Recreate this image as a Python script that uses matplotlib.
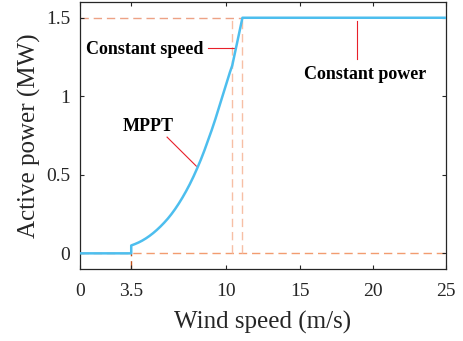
import matplotlib
matplotlib.use("Agg")
import matplotlib.pyplot as plt

# Data
wind = [0, 3.5, 3.5, 3.75, 4, 4.25, 4.5, 4.75, 5, 5.25, 5.5, 5.75, 6, 6.25, 6.5, 6.75,
        7, 7.25, 7.5, 7.75, 8, 8.25, 8.5, 8.75, 9, 9.25, 9.5, 9.75, 10, 10.25, 10.4,
        11.1, 25]
power = [0, 0, 0.05, 0.059, 0.069, 0.081, 0.095, 0.111, 0.129, 0.149, 0.171, 0.195,
         0.221, 0.25, 0.282, 0.317, 0.355, 0.396, 0.44, 0.488, 0.54, 0.595, 0.655,
         0.72, 0.785, 0.855, 0.93, 1.005, 1.08, 1.155, 1.195, 1.5, 1.5]
v_cut_in = 3.5
v_cs1 = 10.4
v_rated = 11.1
p_rated = 1.5
x_ticks = [0, 3.5, 10, 15, 20, 25]
x_ticklabels = ["0", "3.5", "10", "15", "20", "25"]
y_ticks = [0, 0.5, 1, 1.5]
y_ticklabels = ["0", "0.5", "1", "1.5"]

plt.rcParams['font.family'] = ['Liberation Serif', 'DejaVu Serif']

fig = plt.figure(figsize=(4.63, 3.41), dpi=100)
ax = fig.add_axes([0.1728, 0.211, 0.7902, 0.783])

dash = (0, (6, 3.5))
# dashed guide lines
ax.plot([0, v_rated], [p_rated, p_rated], ls=dash, color='#EDA285', lw=1.0, zorder=1)
ax.plot([0, 25], [0, 0], ls=dash, color='#F29C70', lw=1.0, zorder=1)
ax.plot([v_cs1, v_cs1], [0, p_rated], ls=dash, color='#F7BFA5', lw=1.0, zorder=1)
ax.plot([v_rated, v_rated], [0, p_rated], ls=dash, color='#F7BFA5', lw=1.0, zorder=1)
ax.plot([v_cut_in, v_cut_in], [-0.1, 0], ls=dash, color='#C0501A', lw=1.0, zorder=1)

# power curve
ax.plot(wind, power, color='#4DBEEE', lw=1.8, zorder=3, solid_joinstyle='round')

# annotations
ax.plot([8.75, 10.6], [1.305, 1.305], color='#E8202A', lw=0.8, zorder=2)
ax.text(4.44, 1.30, 'Constant speed', fontweight='bold', fontsize=13,
        ha='center', va='center')
ax.plot([5.95, 7.95], [0.74, 0.555], color='#E8202A', lw=0.8, zorder=2)
ax.text(4.64, 0.81, 'MPPT', fontweight='bold', fontsize=13,
        ha='center', va='center')
ax.plot([18.95, 18.95], [1.48, 1.24], color='#E8202A', lw=0.8, zorder=2)
ax.text(19.47, 1.14, 'Constant power', fontweight='bold', fontsize=13,
        ha='center', va='center')

ax.set_xlim(0, 25)
ax.set_ylim(-0.1, 1.6)
ax.set_xticks(x_ticks)
ax.set_xticklabels(x_ticklabels)
ax.set_yticks(y_ticks)
ax.set_yticklabels(y_ticklabels)
ax.tick_params(direction='in', length=3, width=0.8, labelsize=14,
               top=True, right=True, pad=7, colors='#262626')
ax.tick_params(axis='x', pad=10)
for s in ax.spines.values():
    s.set_linewidth(0.9)
    s.set_color('#262626')

ax.set_xlabel('Wind speed (m/s)', fontsize=18, labelpad=8, color='#262626')
ax.set_ylabel('Active power (MW)', fontsize=18, labelpad=3.5, color='#262626')

fig.savefig('out.png', dpi=100)
